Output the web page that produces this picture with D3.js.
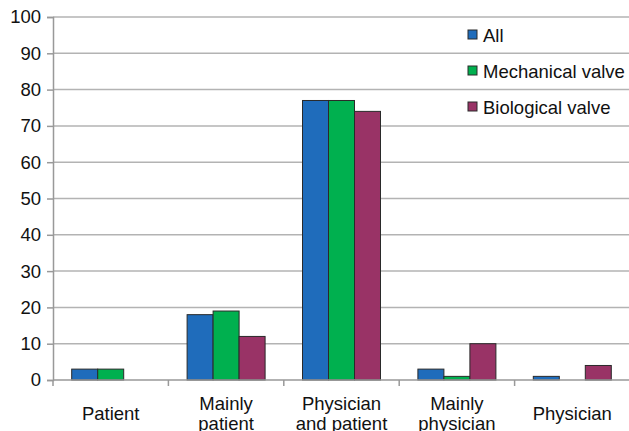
<!DOCTYPE html>
<html>
<head>
<meta charset="utf-8">
<script src="https://cdn.jsdelivr.net/npm/d3@7"></script>
<style>
  html, body { margin: 0; padding: 0; background: #fff; }
  svg { display: block; }
  text { font-family: "Liberation Sans", Arial, sans-serif; fill: #111; }
</style>
</head>
<body>
<svg id="chart" width="629" height="431"></svg>
<script>
// Who decided on the valve type (%)
const categories = [["Patient"], ["Mainly", "patient"], ["Physician", "and patient"], ["Mainly", "physician"], ["Physician"]];
const seriesNames = ["All", "Mechanical valve", "Biological valve"];
const allValues = [3, 18, 77, 3, 1];
const mechanicalValues = [3, 19, 77, 1, 0];
const biologicalValues = [0, 12, 74, 10, 4];
const yTicks = [0, 10, 20, 30, 40, 50, 60, 70, 80, 90, 100];
const colors = ["#1f6cbb", "#00b04f", "#993366"];

const seriesValues = [allValues, mechanicalValues, biologicalValues];
const fontSize = 18.5;

const svg = d3.select("#chart");
const plotLeft = 53, plotRight = 630, plotTop = 17, plotBottom = 380;

const x = d3.scaleBand().domain(d3.range(categories.length)).range([plotLeft, plotRight]);
const groupWidth = 78;
const xInner = d3.scaleBand().domain(d3.range(seriesNames.length)).range([0, groupWidth]);
const y = d3.scaleLinear().domain([0, 100]).range([plotBottom, plotTop]);

// Horizontal gridlines
svg.append("g")
  .selectAll("line")
  .data(yTicks.filter(t => t > 0))
  .join("line")
  .attr("x1", plotLeft).attr("x2", 629)
  .attr("y1", d => y(d)).attr("y2", d => y(d))
  .attr("stroke", "#b3b3b3").attr("stroke-width", 1.5);

// Y axis
const yAxis = svg.append("g")
  .attr("transform", `translate(${plotLeft},0)`)
  .call(d3.axisLeft(y).tickValues(yTicks).tickSize(6).tickPadding(6));
yAxis.select(".domain").attr("stroke", "#999").attr("stroke-width", 1.5);
yAxis.selectAll(".tick line").attr("stroke", "#999").attr("stroke-width", 1.5);
yAxis.selectAll(".tick text")
  .attr("font-size", fontSize)
  .attr("fill", "#111")
  .style("font-family", "'Liberation Sans', Arial, sans-serif");

// Bars
const groups = svg.append("g")
  .selectAll("g")
  .data(categories.map((c, i) => i))
  .join("g")
  .attr("transform", i => `translate(${x(i) + (x.bandwidth() - groupWidth) / 2},0)`);

groups.selectAll("rect")
  .data(i => seriesValues.map((vals, s) => ({ s, v: vals[i] })).filter(d => d.v > 0))
  .join("rect")
  .attr("x", d => xInner(d.s))
  .attr("width", xInner.bandwidth())
  .attr("y", d => y(d.v))
  .attr("height", d => y(0) - y(d.v))
  .attr("fill", d => colors[d.s])
  .attr("stroke", "#2a2a2a")
  .attr("stroke-width", 1);

// X axis baseline with category separators
const xAxisG = svg.append("g");
xAxisG.append("line")
  .attr("x1", plotLeft).attr("x2", 629)
  .attr("y1", plotBottom).attr("y2", plotBottom)
  .attr("stroke", "#999").attr("stroke-width", 1.5);
xAxisG.selectAll("line.sep")
  .data(d3.range(categories.length + 1))
  .join("line")
  .attr("class", "sep")
  .attr("x1", i => plotLeft + i * x.step()).attr("x2", i => plotLeft + i * x.step())
  .attr("y1", plotBottom).attr("y2", plotBottom + 6)
  .attr("stroke", "#999").attr("stroke-width", 1.5);

// Category labels
const labels = svg.append("g")
  .selectAll("text")
  .data(categories.map((c, i) => ({ c, i })))
  .join("text")
  .attr("text-anchor", "middle")
  .attr("font-size", fontSize)
  .attr("x", d => x(d.i) + x.bandwidth() / 2)
  .attr("y", d => d.c.length === 1 ? 420 : 410);
labels.selectAll("tspan")
  .data(d => d.c.map((line, k) => ({ line, k, cx: x(d.i) + x.bandwidth() / 2 })))
  .join("tspan")
  .attr("x", d => d.cx)
  .attr("dy", d => d.k === 0 ? 0 : 20)
  .text(d => d.line);

// Legend
const legend = svg.append("g")
  .selectAll("g")
  .data(seriesNames.map((n, i) => ({ n, i })))
  .join("g")
  .attr("transform", d => `translate(468,${35 + d.i * 36})`);
legend.append("rect")
  .attr("x", 0).attr("y", -5)
  .attr("width", 9).attr("height", 9)
  .attr("fill", d => colors[d.i])
  .attr("stroke", "#2a2a2a").attr("stroke-width", 1);
legend.append("text")
  .attr("x", 15).attr("y", 6.5)
  .attr("font-size", fontSize)
  .text(d => d.n);
</script>
</body>
</html>
